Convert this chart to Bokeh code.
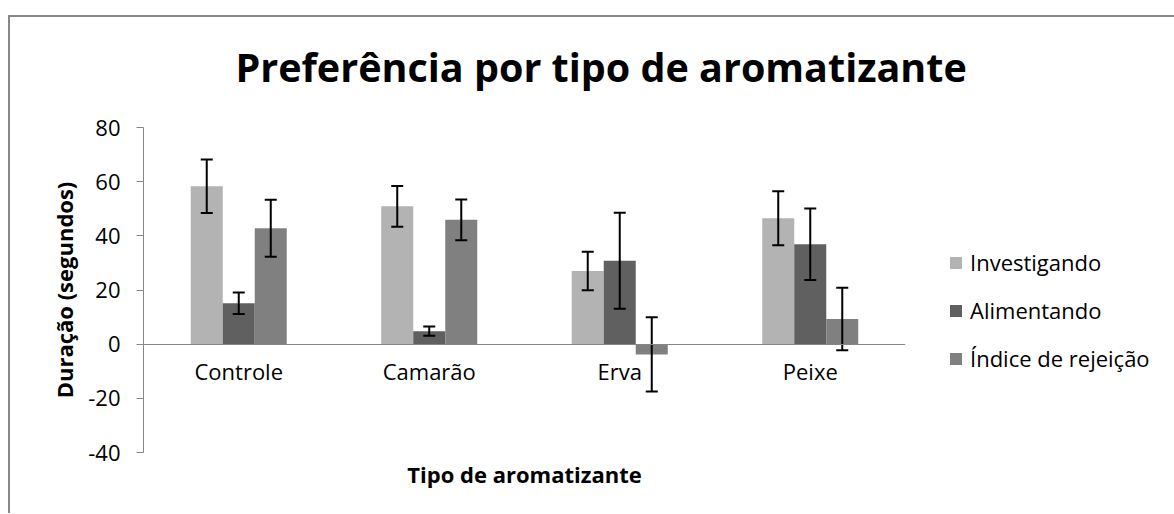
from bokeh.plotting import figure
from bokeh.models import (ColumnDataSource, FactorRange, Range1d, Legend, LegendItem,
                          Title, FixedTicker)
from bokeh.transform import dodge
from bokeh.embed import file_html
from bokeh.resources import INLINE

categories = ["Controle", "Camarão", "Erva", "Peixe"]
series_names = ["Investigando", "Alimentando", "Índice de rejeição"]
investigando = [58.3, 50.9, 27.0, 46.5]
investigando_err = [9.9, 7.5, 7.1, 10.0]
alimentando = [15.1, 4.8, 30.8, 36.9]
alimentando_err = [4.0, 1.7, 17.7, 13.2]
rejeicao = [42.8, 45.9, -3.8, 9.3]
rejeicao_err = [10.5, 7.5, 13.7, 11.5]
y_ticks = [-40, -20, 0, 20, 40, 60, 80]

FONT = "Open Sans"
colors = ["#b3b3b3", "#606060", "#808080"]
offsets = [-0.168, 0.0, 0.168]
bar_w = 0.168

p = figure(x_range=FactorRange(*categories, range_padding=0),
           y_range=Range1d(-40, 80),
           frame_width=762, frame_height=325,
           min_border_left=143, min_border_top=123, min_border_right=265,
           min_border_bottom=46,
           output_backend="svg", toolbar_location=None)
# chart-area border (top and left edges), painted behind a transparent canvas margin
p.styles = {
    "margin-top": "4px",
    "padding-bottom": "15px",
    "background": ("linear-gradient(#888888, #888888) 8px 11px / 100% 2px no-repeat, "
                   "linear-gradient(#888888, #888888) 8px 11px / 2px 100% no-repeat, white"),
}

p.xgrid.visible = False
p.ygrid.visible = False
p.outline_line_color = None
p.background_fill_color = "white"
p.border_fill_alpha = 0

# title
p.title.text = "Preferência por tipo de aromatizante"
p.title.align = "left"
p.title.offset = 92
p.title.vertical_align = "bottom"
p.title.standoff = 67
p.title.text_font = FONT
p.title.text_font_style = "bold"
p.title.text_font_size = "39.5px"
p.title.text_color = "black"

# y axis
p.yaxis.ticker = FixedTicker(ticks=y_ticks)
p.yaxis.major_label_overrides = {t: str(t) for t in y_ticks}
p.yaxis.axis_line_color = "#868686"
p.yaxis.major_tick_line_color = "#868686"
p.yaxis.major_tick_out = 7
p.yaxis.major_tick_in = 0
p.yaxis.minor_tick_line_color = None
p.yaxis.major_label_text_font = FONT
p.yaxis.major_label_text_font_size = "22px"
p.yaxis.major_label_text_color = "black"
p.yaxis.major_label_standoff = 16
p.yaxis.axis_label = "Duração (segundos)"
p.yaxis.axis_label_text_font = FONT
p.yaxis.axis_label_text_font_style = "bold"
p.yaxis.axis_label_text_font_size = "22px"
p.yaxis.axis_label_text_color = "black"
p.yaxis.axis_label_standoff = 6

# x axis drawn at y = 0
p.xaxis.fixed_location = 0
p.xaxis.axis_line_color = "#868686"
p.xaxis.major_tick_line_color = None
p.xaxis.minor_tick_line_color = None
p.xaxis.major_label_text_font = FONT
p.xaxis.major_label_text_font_size = "22px"
p.xaxis.major_label_text_color = "black"
p.xaxis.major_label_standoff = 6

xtitle = Title(text="Tipo de aromatizante", align="center", vertical_align="top",
               standoff=13, text_font=FONT, text_font_style="bold",
               text_font_size="22px", text_color="black")
p.add_layout(xtitle, "below")

src = ColumnDataSource(dict(
    cat=categories,
    inv=investigando, inv_up=[v + e for v, e in zip(investigando, investigando_err)],
    inv_lo=[v - e for v, e in zip(investigando, investigando_err)],
    ali=alimentando, ali_up=[v + e for v, e in zip(alimentando, alimentando_err)],
    ali_lo=[v - e for v, e in zip(alimentando, alimentando_err)],
    rej=rejeicao, rej_up=[v + e for v, e in zip(rejeicao, rejeicao_err)],
    rej_lo=[v - e for v, e in zip(rejeicao, rejeicao_err)],
))

keys = ["inv", "ali", "rej"]
renderers = []
for k, off, col in zip(keys, offsets, colors):
    r = p.vbar(x=dodge("cat", off, range=p.x_range), top=k, bottom=0, width=bar_w,
               source=src, fill_color=col, line_color=None)
    renderers.append(r)
for k, off in zip(keys, offsets):
    xs = dodge("cat", off, range=p.x_range)
    p.segment(x0=xs, x1=xs, y0=k + "_lo", y1=k + "_up", source=src,
              line_color="black", line_width=2)
    p.scatter(x=xs, y=k + "_up", marker="dash", size=12, source=src,
              line_color="black", line_width=2)
    p.scatter(x=xs, y=k + "_lo", marker="dash", size=12, source=src,
              line_color="black", line_width=2)

legend = Legend(items=[LegendItem(label=n, renderers=[r]) for n, r in zip(series_names, renderers)],
                location=(43, 79), orientation="vertical",
                glyph_width=15, glyph_height=15, label_height=24, spacing=18,
                padding=0, margin=0, label_standoff=7,
                label_text_font=FONT, label_text_font_size="22px", label_text_color="black",
                border_line_color=None, background_fill_alpha=0)
p.add_layout(legend, "right")

open("out.html", "w").write(file_html(p, INLINE))
